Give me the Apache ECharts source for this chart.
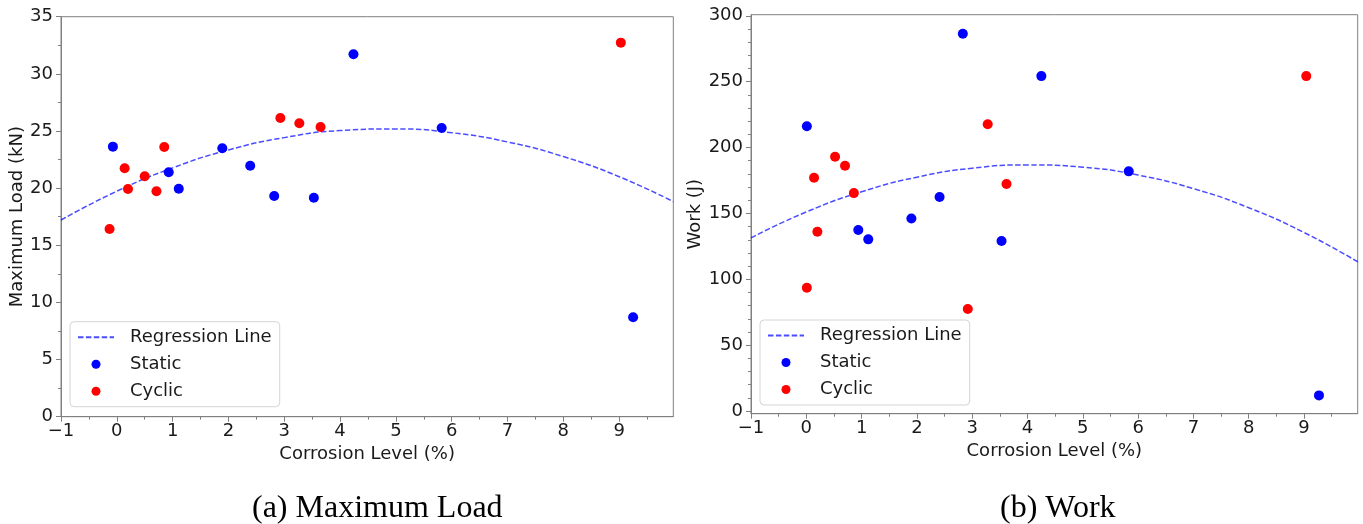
<!DOCTYPE html>
<html><head><meta charset="utf-8">
<script src="https://cdn.jsdelivr.net/npm/echarts@6/dist/echarts.min.js"></script>
<style>html,body{margin:0;padding:0;background:#fff}#c{width:1363px;height:524px}</style>
</head><body><div id="c"></div>
<script>
// ---- data ----
const loadStaticX  = [-0.07, 0.93, 1.11, 1.89, 2.39, 2.82, 3.53, 4.24, 5.82, 9.25];
const loadStaticY  = [23.63, 21.39, 19.95, 23.49, 21.96, 19.31, 19.16, 31.71, 25.26, 8.70];
const loadCyclicX  = [-0.13, 0.14, 0.20, 0.50, 0.71, 0.85, 2.93, 3.27, 3.65, 9.03];
const loadCyclicY  = [16.43, 21.74, 19.93, 21.04, 19.72, 23.60, 26.14, 25.67, 25.35, 32.73];

const workStaticX  = [0.01, 0.94, 1.12, 1.90, 2.41, 2.83, 3.53, 4.25, 5.83, 9.27];
const workStaticY  = [216.1, 137.4, 130.3, 146.2, 162.4, 286.3, 129.0, 254.2, 181.9, 11.9];
const workCyclicX  = [0.01, 0.14, 0.20, 0.52, 0.70, 0.86, 2.92, 3.28, 3.62, 9.04];
const workCyclicY  = [93.6, 177.1, 136.1, 193.0, 186.2, 165.4, 77.4, 217.6, 172.3, 254.2];

const fitX      = [-1, 0, 1, 2, 3, 4, 5, 6, 7, 8, 9, 9.97];
const loadFitY  = [17.21, 19.73, 21.77, 23.34, 24.42, 25.04, 25.18, 24.85, 24.04, 22.76, 21.00, 18.82];
const workFitY  = [131.5, 151.1, 166.4, 177.5, 184.3, 186.8, 185.1, 179.1, 168.8, 154.3, 135.5, 113.3];

const xTicks        = [-1, 0, 1, 2, 3, 4, 5, 6, 7, 8, 9];
const loadTicks     = [0, 5, 10, 15, 20, 25, 30, 35];
const workTicks     = [0, 50, 100, 150, 200, 250, 300];
const workMinorTicks= [10,20,30,40,60,70,80,90,110,120,130,140,160,170,180,190,210,220,230,240,260,270,280,290];

const seriesNames = ['Regression Line', 'Static', 'Cyclic'];
const captions = ['(a) Maximum Load', '(b) Work'];
const yNames = ['Maximum Load (kN)', 'Work (J)'];
const xName = 'Corrosion Level (%)';

// ---- helpers ----
const zip = (xs, ys) => xs.map((x, i) => [x, ys[i]]);
const FONT = 'DejaVu Sans';
const TXT = '#1a1a1a';
const AX = '#808080';

function xAxisFor(gi) {
  return {
    type: 'value', gridIndex: gi, min: -1, max: 9.97, interval: 1,
    name: xName, nameLocation: 'middle', nameGap: 26,
    nameTextStyle: {fontFamily: FONT, fontSize: 18, color: TXT},
    axisLine: {onZero: false, lineStyle: {color: AX, width: 1}},
    axisTick: {show: true, length: 5, customValues: xTicks, lineStyle: {color: AX}},
    minorTick: {show: true, splitNumber: 2, length: 3, lineStyle: {color: AX}},
    axisLabel: {customValues: xTicks, margin: 6, fontFamily: FONT, fontSize: 18, color: TXT,
      formatter: v => (v < 0 ? '\u2212' + Math.abs(v) : String(v))},
    splitLine: {show: false}, minorSplitLine: {show: false}
  };
}

const option = {
  animation: false,
  backgroundColor: '#fff',
  grid: [
    {left: 61, top: 16.7, width: 612.3, height: 400, show: true, borderColor: AX, borderWidth: 1},
    {left: 751, top: 14.7, width: 606.7, height: 399, show: true, borderColor: AX, borderWidth: 1}
  ],
  xAxis: [xAxisFor(0), xAxisFor(1)],
  yAxis: [
    {
      type: 'value', gridIndex: 0, min: 0, max: 35, interval: 5,
      name: yNames[0], nameLocation: 'middle', nameGap: 34, nameRotate: 90,
      nameTextStyle: {fontFamily: FONT, fontSize: 18, color: TXT},
      axisLine: {show: true, onZero: false, lineStyle: {color: AX}},
      axisTick: {show: true, length: 5, lineStyle: {color: AX}},
      minorTick: {show: true, splitNumber: 2, length: 3, lineStyle: {color: AX}},
      axisLabel: {margin: 8, fontFamily: FONT, fontSize: 18, color: TXT},
      splitLine: {show: false}
    },
    {
      type: 'value', gridIndex: 1, min: -2, max: 300.8,
      name: yNames[1], nameLocation: 'middle', nameGap: 42, nameRotate: 90,
      nameTextStyle: {fontFamily: FONT, fontSize: 18, color: TXT},
      axisLine: {show: true, onZero: false, lineStyle: {color: AX}},
      axisTick: {show: true, length: 5, customValues: workTicks, lineStyle: {color: AX}},
      axisLabel: {customValues: workTicks, margin: 8, fontFamily: FONT, fontSize: 18, color: TXT},
      splitLine: {show: false}
    },
    {
      type: 'value', gridIndex: 1, min: -2, max: 300.8, position: 'left',
      axisLine: {show: false, onZero: false},
      axisTick: {show: true, length: 3, customValues: workMinorTicks, lineStyle: {color: AX}},
      axisLabel: {show: false},
      splitLine: {show: false}
    }
  ],
  legend: [0, 1].map(i => ({
    left: i === 0 ? 70 : 760, top: i === 0 ? 321.7 : 320,
    orient: 'vertical', itemWidth: 36, itemHeight: 9, itemGap: 9,
    padding: [6.5, 8, 6.5, 7],
    borderColor: '#d4d4d4', borderWidth: 1, borderRadius: 4,
    backgroundColor: 'rgba(255,255,255,0.8)',
    selectedMode: false,
    textStyle: {fontFamily: FONT, fontSize: 18, color: TXT, padding: [0, 0, 0, 11]},
    data: [
      {name: seriesNames[0], itemStyle: {opacity: 0}},
      {name: seriesNames[1]},
      {name: seriesNames[2]}
    ]
  })),
  graphic: [
    {type: 'text', left: 377 - 125, top: 493, style: {text: captions[0], font: '32px "Liberation Serif"', fill: '#000'}},
    {type: 'text', left: 1059 - 59, top: 493, style: {text: captions[1], font: '32px "Liberation Serif"', fill: '#000'}}
  ],
  series: [
    {name: seriesNames[0], type: 'line', xAxisIndex: 0, yAxisIndex: 0, data: zip(fitX, loadFitY), smooth: true,
      symbol: 'none', lineStyle: {color: 'rgba(0,0,255,0.7)', width: 1.5, type: [5.5, 2.4]}, itemStyle: {color: 'rgba(0,0,255,0.7)'}, z: 2},
    {name: seriesNames[1], type: 'scatter', xAxisIndex: 0, yAxisIndex: 0, data: zip(loadStaticX, loadStaticY),
      symbolSize: 10, itemStyle: {color: '#0000ff', opacity: 1}, z: 3},
    {name: seriesNames[2], type: 'scatter', xAxisIndex: 0, yAxisIndex: 0, data: zip(loadCyclicX, loadCyclicY),
      symbolSize: 10, itemStyle: {color: '#ff0000', opacity: 1}, z: 4},
    {name: seriesNames[0], type: 'line', xAxisIndex: 1, yAxisIndex: 1, data: zip(fitX, workFitY), smooth: true,
      symbol: 'none', lineStyle: {color: 'rgba(0,0,255,0.7)', width: 1.5, type: [5.5, 2.4]}, itemStyle: {color: 'rgba(0,0,255,0.7)'}, z: 2},
    {name: seriesNames[1], type: 'scatter', xAxisIndex: 1, yAxisIndex: 1, data: zip(workStaticX, workStaticY),
      symbolSize: 10, itemStyle: {color: '#0000ff', opacity: 1}, z: 3},
    {name: seriesNames[2], type: 'scatter', xAxisIndex: 1, yAxisIndex: 1, data: zip(workCyclicX, workCyclicY),
      symbolSize: 10, itemStyle: {color: '#ff0000', opacity: 1}, z: 4}
  ]
};
const chart = echarts.init(document.getElementById('c'), null, {renderer: 'canvas'});
chart.setOption(option);
</script>
</body></html>
